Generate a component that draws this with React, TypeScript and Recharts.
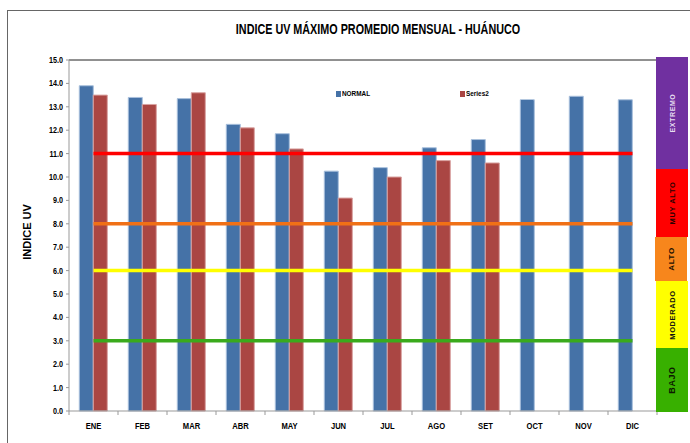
import React from 'react';
import { ComposedChart, Bar, Line, XAxis, YAxis, ReferenceLine } from 'recharts';

const months = ['ENE', 'FEB', 'MAR', 'ABR', 'MAY', 'JUN', 'JUL', 'AGO', 'SET', 'OCT', 'NOV', 'DIC'];
const normal = [13.9, 13.4, 13.35, 12.25, 11.85, 10.25, 10.4, 11.25, 11.6, 13.3, 13.45, 13.3];
const series2 = [13.5, 13.1, 13.6, 12.1, 11.2, 9.1, 10.0, 10.7, 10.6, null, null, null];
const thresholds = [11, 8, 6, 3];
const thresholdColors = ['#FF0000', '#F07016', '#FFFF00', '#3AAA1C'];
const yTicks = [0, 1, 2, 3, 4, 5, 6, 7, 8, 9, 10, 11, 12, 13, 14, 15];
const bandLabels = ['EXTREMO', 'MUY ALTO', 'ALTO', 'MODERADO', 'BAJO'];

const data = months.map((m, i) => {
  const row: any = { month: m, normal: normal[i], series2: series2[i] };
  thresholds.forEach((t, k) => (row['t' + k] = t));
  return row;
});

const FONT = 'Arial, "Liberation Sans", sans-serif';
const SQUEEZE = 0.8; // fake the narrow face of the original
const W = 690;
const H = 443;
const PLOT_LEFT = 69;
const PLOT_RIGHT = 657;
const BAND = (PLOT_RIGHT - PLOT_LEFT) / months.length;

// colour band on the right (decoration, not tied to the axis)
const bandStyles = [
  { top: 57, height: 112, bg: '#7030A0', color: '#E6DDF0', size: 7, left: 656 },
  { top: 169, height: 68, bg: '#FF0000', color: '#2a0000', size: 7.5, left: 656 },
  { top: 237, height: 44, bg: '#F7861C', color: '#1a1000', size: 8, left: 655 },
  { top: 281, height: 67, bg: '#FFFF00', color: '#111', size: 7.5, left: 656 },
  { top: 348, height: 64, bg: '#38B000', color: '#0c1a00', size: 9, left: 656 },
];

const MonthTick = (props: any) => {
  const { x, y, payload, index } = props;
  return (
    <g>
      <line x1={x - BAND / 2} x2={x - BAND / 2} y1={y - 8} y2={y - 4} stroke="#999" />
      {index === months.length - 1 && (
        <line x1={x + BAND / 2} x2={x + BAND / 2} y1={y - 8} y2={y - 4} stroke="#999" />
      )}
      <text transform={`translate(${x},${y + 10}) scale(${SQUEEZE},1)`} textAnchor="middle" fontFamily={FONT} fontWeight="bold" fontSize={9.5} fill="#000">
        {payload.value}
      </text>
    </g>
  );
};

const ValueTick = (props: any) => {
  const { x, y, payload } = props;
  return (
    <text transform={`translate(${x},${y + 3}) scale(${SQUEEZE},1)`} textAnchor="end" fontFamily={FONT} fontWeight="bold" fontSize={9} fill="#000">
      {Number(payload.value).toFixed(1)}
    </text>
  );
};

export default function App() {
  return (
    <div style={{ position: 'fixed', left: 0, top: 0, width: W, height: H, background: '#fff', overflow: 'hidden' }}>
      <div style={{ position: 'absolute', left: 7, top: 10, width: W, height: H, borderLeft: '1.5px solid #666', borderTop: '1.5px solid #666' }} />
      <div style={{ position: 'absolute', left: 0, width: 756, top: 21, textAlign: 'center', fontFamily: FONT, fontWeight: 'bold', fontSize: 14, color: '#000', transform: 'scaleX(0.77)', transformOrigin: '378px 0' }}>
        INDICE UV MÁXIMO PROMEDIO MENSUAL - HUÁNUCO
      </div>
      <div style={{ position: 'absolute', left: 27, top: 232, transform: 'translate(-50%, -50%) rotate(-90deg)', whiteSpace: 'nowrap', fontFamily: FONT, fontWeight: 'bold', fontSize: 11, color: '#000' }}>
        INDICE UV
      </div>
      <div style={{ position: 'absolute', left: 0, top: 0 }}>
        <ComposedChart width={W} height={H} data={data} margin={{ top: 60, right: W - PLOT_RIGHT, bottom: 0, left: 0 }} barCategoryGap="21%" barGap={0}>
          <XAxis dataKey="month" height={32} axisLine={{ stroke: '#999' }} tickLine={false} tick={<MonthTick />} interval={0} />
          <YAxis width={PLOT_LEFT} domain={[0, 15]} ticks={yTicks} axisLine={{ stroke: '#999' }} tickLine={{ stroke: '#999' }} tickSize={3} tickMargin={3} tick={<ValueTick />} interval={0} />
          <ReferenceLine y={15} stroke="#222" strokeWidth={1} />
          <Bar dataKey="normal" name="NORMAL" fill="#4572A7" stroke="#A9C0DC" strokeWidth={1} isAnimationActive={false} />
          <Bar dataKey="series2" name="Series2" fill="#AA4643" stroke="#D9A3A1" strokeWidth={1} isAnimationActive={false} />
          {thresholds.map((t, k) => (
            <Line key={k} dataKey={'t' + k} stroke={thresholdColors[k]} strokeWidth={3.5} dot={false} activeDot={false} legendType="none" isAnimationActive={false} />
          ))}
        </ComposedChart>
      </div>
      {/* legend */}
      <div style={{ position: 'absolute', left: 336, top: 89, display: 'flex', alignItems: 'center', fontFamily: FONT, fontWeight: 'bold', fontSize: 8 }}>
        <span style={{ width: 5, height: 6, background: '#4572A7', marginRight: 1 }} />
        <span style={{ display: 'inline-block', transform: `scaleX(${SQUEEZE})`, transformOrigin: '0 0' }}>NORMAL</span>
      </div>
      <div style={{ position: 'absolute', left: 460, top: 89, display: 'flex', alignItems: 'center', fontFamily: FONT, fontWeight: 'bold', fontSize: 8 }}>
        <span style={{ width: 5, height: 6, background: '#AA4643', marginRight: 1 }} />
        <span style={{ display: 'inline-block', transform: `scaleX(${SQUEEZE})`, transformOrigin: '0 0' }}>Series2</span>
      </div>
      <div style={{ position: 'absolute', left: 521, top: 100, width: 12, height: 7, background: '#4572A7' }} />
      {bandLabels.map((label, i) => {
        const s = bandStyles[i];
        return (
          <div key={label} style={{ position: 'absolute', left: s.left, top: s.top, width: 32, height: s.height, background: s.bg }}>
            <div style={{ position: 'absolute', left: '50%', top: '50%', transform: 'translate(-50%, -50%) rotate(-90deg)', whiteSpace: 'nowrap', fontFamily: FONT, fontWeight: 'bold', fontSize: s.size, letterSpacing: 0.6, color: s.color }}>
              {label}
            </div>
          </div>
        );
      })}
    </div>
  );
}
